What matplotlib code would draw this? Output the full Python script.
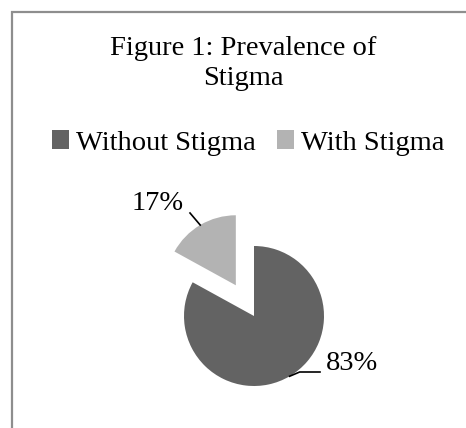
import numpy as np
import matplotlib
matplotlib.use("Agg")
import matplotlib.pyplot as plt
from matplotlib.patches import Rectangle

# data
categories = ["Without Stigma", "With Stigma"]
shares = [83, 17]
pct_labels = ["83%", "17%"]
colors = ["#636363", "#b3b3b3"]
explode = [0, 0.51]

title = "Figure 1: Prevalence of\nStigma"

W, H = 466, 428
plt.rcParams["font.family"] = ["Liberation Serif", "DejaVu Serif"]

fig = plt.figure(figsize=(W / 100, H / 100), dpi=100)
ax = fig.add_axes([0, 0, 1, 1])

# chart border (only top and left are inside the crop)
fig.patches.append(Rectangle((12 / W, -0.1), 1.2, 1.1 - 12 / H, transform=fig.transFigure,
                             fill=False, edgecolor="#8e8e8e", linewidth=1.6))

fig.text(243 / W, 1 - 36 / H, title, ha="center", va="top", fontsize=20.5, linespacing=1.25)

# pie, centre/radius in pixel units
cx, cy, r = 254, H - 316, 70
wedges, _ = ax.pie(shares, colors=colors, explode=[e * r for e in explode], startangle=90,
                   counterclock=False, center=(cx, cy), radius=r,
                   wedgeprops=dict(linewidth=0), frame=True)
ax.set_xlim(0, W)
ax.set_ylim(0, H)
ax.axis("off")

# label positions (pixel coords, top-left origin)
label_pos = [(352, 363), (158, 203)]
for w, lab, ex, (lx, ly) in zip(wedges, pct_labels, explode, label_pos):
    mid = np.deg2rad((w.theta1 + w.theta2) / 2)
    px = cx + (r + ex * r) * np.cos(mid)
    py = cy + (r + ex * r) * np.sin(mid)
    ax.text(lx, H - ly, lab, ha="center", va="center", fontsize=20.5)
    if lab == "83%":
        ax.plot([px, px + 10, 320], [py, H - 372, H - 372], color="black", lw=1.2)
    else:
        ax.plot([px, 190], [py, H - 213], color="black", lw=1.2)

fig.legend(wedges, categories, loc="center", bbox_to_anchor=(248 / W, 1 - 143 / H), ncol=2,
           frameon=False, fontsize=20.5, handlelength=0.6, handleheight=0.6,
           handletextpad=0.25, columnspacing=0.75, borderpad=0, borderaxespad=0)

fig.savefig("out.png", dpi=100)
